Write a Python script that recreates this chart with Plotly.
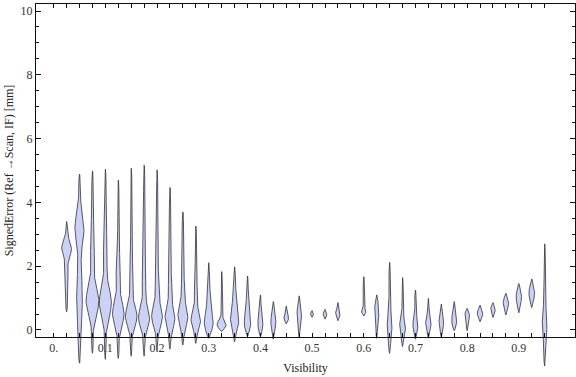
import numpy as np
import plotly.graph_objects as go

# ---- data (one violin per visibility bin) ----
visibility = [0.025, 0.050, 0.075, 0.100, 0.125, 0.150, 0.175, 0.200, 0.225, 0.250,
              0.275, 0.300, 0.325, 0.350, 0.375, 0.400, 0.425, 0.450, 0.475, 0.500,
              0.525, 0.550, 0.600, 0.625, 0.650, 0.675, 0.700, 0.725, 0.750, 0.775,
              0.800, 0.825, 0.850, 0.875, 0.900, 0.925, 0.950]
err_min = [0.57, -1.04, -0.73, -0.92, -0.89, -0.82, -0.82, -0.65, -0.60, -0.47,
           -0.42, -0.26, -0.05, -0.37, -0.21, -0.21, -0.29, 0.19, -0.23, 0.40,
           0.34, 0.29, 0.44, -0.26, -0.73, -0.52, -0.29, -0.26, -0.23, -0.02,
           -0.02, 0.26, 0.39, 0.47, 0.54, 0.70, -1.13]
err_max = [3.40, 4.89, 4.99, 5.04, 4.70, 5.07, 5.17, 5.02, 4.47, 3.70,
           3.26, 2.11, 1.83, 1.98, 1.69, 1.10, 0.89, 0.75, 1.07, 0.61,
           0.65, 0.86, 1.67, 1.10, 2.12, 1.64, 1.25, 0.99, 0.81, 0.89,
           0.68, 0.78, 0.86, 1.15, 1.46, 1.60, 2.70]
# main density mode: location, relative density, spread
mode_loc = [2.56, 3.20, 0.90, 0.85, 0.50, 0.42, 0.38, 0.42, 0.37, 0.42,
            0.31, 0.22, 0.17, 0.26, 0.21, 0.21, 0.26, 0.37, 0.47, 0.50,
            0.50, 0.52, 0.57, 0.57, 0.15, 0.10, 0.16, 0.21, 0.23, 0.31,
            0.44, 0.52, 0.65, 0.84, 1.04, 1.15, 0.21]
mode_dens = [4.3, 4.0, 5.8, 5.5, 5.2, 5.2, 5.0, 4.7, 4.3, 4.3,
             4.2, 3.8, 4.0, 3.5, 2.6, 2.0, 2.0, 1.8, 1.8, 1.3,
             1.3, 1.8, 1.7, 1.7, 1.8, 2.5, 2.0, 2.2, 1.8, 2.0,
             1.8, 2.2, 1.8, 2.2, 2.2, 2.3, 1.8]
mode_spread = [0.22, 0.45, 0.40, 0.42, 0.35, 0.30, 0.30, 0.30, 0.30, 0.30,
               0.25, 0.25, 0.12, 0.22, 0.20, 0.22, 0.22, 0.10, 0.20, 0.06,
               0.07, 0.10, 0.07, 0.25, 0.35, 0.20, 0.20, 0.18, 0.18, 0.20,
               0.15, 0.12, 0.10, 0.15, 0.20, 0.20, 0.40]
# secondary density component
sec_loc = [1.60, 1.00, 2.50, 2.40, 1.80, 1.60, 1.50, 1.40, 1.40, 1.30,
           1.20, 0.90, 0.00, 0.90, 0.80, 0.50, 0.50, 0.40, 0.50, 0.50,
           0.50, 0.50, 0.60, 0.50, 0.50, 0.50, 0.50, 0.50, 0.50, 0.50,
           0.50, 0.50, 0.60, 0.80, 1.00, 1.10, 0.50]
sec_dens = [0.8, 2.3, 1.3, 1.3, 1.6, 1.3, 1.3, 1.2, 1.0, 0.9,
            0.8, 1.4, 0.0, 1.5, 0.8, 0.0, 0.0, 0.0, 0.0, 0.0,
            0.0, 0.0, 0.0, 0.0, 0.0, 0.0, 0.0, 0.0, 0.0, 0.0,
            0.0, 0.0, 0.0, 0.0, 0.0, 0.0, 0.0]
sec_spread = [0.50, 0.80, 0.70, 0.60, 0.50, 0.50, 0.50, 0.50, 0.50, 0.50,
              0.40, 0.30, 1.00, 0.30, 0.30, 1.00, 1.00, 1.00, 1.00, 1.00,
              1.00, 1.00, 1.00, 1.00, 1.00, 1.00, 1.00, 1.00, 1.00, 1.00,
              1.00, 1.00, 1.00, 1.00, 1.00, 1.00, 1.00]

x_tick_vals = [round(0.025 * k, 3) for k in range(39)]
x_label_vals = [0.0, 0.1, 0.2, 0.3, 0.4, 0.5, 0.6, 0.7, 0.8, 0.9]
x_label_text = ["0.", "0.1", "0.2", "0.3", "0.4", "0.5", "0.6", "0.7", "0.8", "0.9"]
y_tick_vals = [0, 2, 4, 6, 8, 10]

# ---- styling / layout constants ----
FILL = "rgb(204,210,245)"
EDGE = "rgba(50,50,60,0.8)"
WIDTH_SCALE = 1.0 / 516.8   # density units -> x-axis units
FONT = "Liberation Serif"
W, H = 576, 377
M_L, M_R, M_T, M_B = 36, 1, 4, 0
FRAME_BOTTOM_PX = 337          # frame bottom edge (px from top)
X_RANGE = [-0.0342, 1.0087]
Y_RANGE = [-0.22, 10.22]
plot_h = H - M_T - M_B
frame_h = FRAME_BOTTOM_PX - M_T
units_per_px = (Y_RANGE[1] - Y_RANGE[0]) / frame_h
y_full_range = [Y_RANGE[1] - plot_h * units_per_px, Y_RANGE[1]]
frame_domain_bottom = (H - M_B - FRAME_BOTTOM_PX) / plot_h

fig = go.Figure()
for i, x0 in enumerate(visibility):
    lo, hi = err_min[i], err_max[i]
    ys = np.linspace(lo, hi, 300)
    hw = 0.55 + mode_dens[i] * np.exp(-0.5 * ((ys - mode_loc[i]) / mode_spread[i]) ** 2)
    if sec_dens[i] > 0:
        hw = hw + sec_dens[i] * np.exp(-0.5 * ((ys - sec_loc[i]) / sec_spread[i]) ** 2)
    taper = np.clip(np.minimum(ys - lo, hi - ys) / 0.12, 0, 1) ** 0.6
    hw = hw * taper * WIDTH_SCALE
    xs = np.concatenate([x0 - hw, (x0 + hw)[::-1], [x0 - hw[0]]])
    yy = np.concatenate([ys, ys[::-1], [ys[0]]])
    fig.add_trace(go.Scatter(x=xs, y=yy, mode="lines", fill="toself",
                             fillcolor=FILL, line=dict(color=EDGE, width=1),
                             hoverinfo="skip", showlegend=False,
                             xaxis="x", yaxis="y"))

# empty trace so the framed subplot (x2/y2) is created
fig.add_trace(go.Scatter(x=[], y=[], xaxis="x2", yaxis="y2", showlegend=False,
                         hoverinfo="skip"))

ticktext = []
for v in x_tick_vals:
    lab = ""
    for lv, lt in zip(x_label_vals, x_label_text):
        if abs(v - lv) < 1e-9:
            lab = lt
    ticktext.append(lab)

fig.update_layout(
    width=W, height=H,
    margin=dict(l=M_L, r=M_R, t=M_T, b=M_B),
    paper_bgcolor="white", plot_bgcolor="rgba(0,0,0,0)",
    font=dict(family=FONT, size=12, color="#222"),
    showlegend=False,
    xaxis=dict(range=X_RANGE, domain=[0, 1], visible=False, anchor="y"),
    yaxis=dict(range=y_full_range, domain=[0, 1], visible=False, anchor="x"),
    xaxis2=dict(range=X_RANGE, domain=[0, 1], anchor="y2",
                tickvals=x_tick_vals, ticktext=ticktext,
                ticks="inside", ticklen=4, tickcolor="#111", tickwidth=1,
                showline=True, linecolor="#111", linewidth=1, mirror="ticks",
                showgrid=False, zeroline=False,
                title=dict(text="Visibility", standoff=9,
                           font=dict(family=FONT, size=12, color="#222")),
                tickfont=dict(family=FONT, size=12, color="#333")),
    yaxis2=dict(range=Y_RANGE, domain=[frame_domain_bottom, 1], anchor="x2",
                tickvals=y_tick_vals,
                ticks="inside", ticklen=5, tickcolor="#111", tickwidth=1,
                minor=dict(dtick=0.5, tick0=0, ticks="inside", ticklen=3, tickcolor="#111"),
                showline=True, linecolor="#111", linewidth=1, mirror="ticks",
                showgrid=False, zeroline=False,
                title=dict(text="SignedError (Ref \u2192Scan, IF) [mm]", standoff=4,
                           font=dict(family=FONT, size=12, color="#222")),
                tickfont=dict(family=FONT, size=12, color="#333")),
)

fig.write_html("out.html", config={"displayModeBar": False},
               post_script="document.body.style.margin='0';document.body.style.overflow='hidden';")
